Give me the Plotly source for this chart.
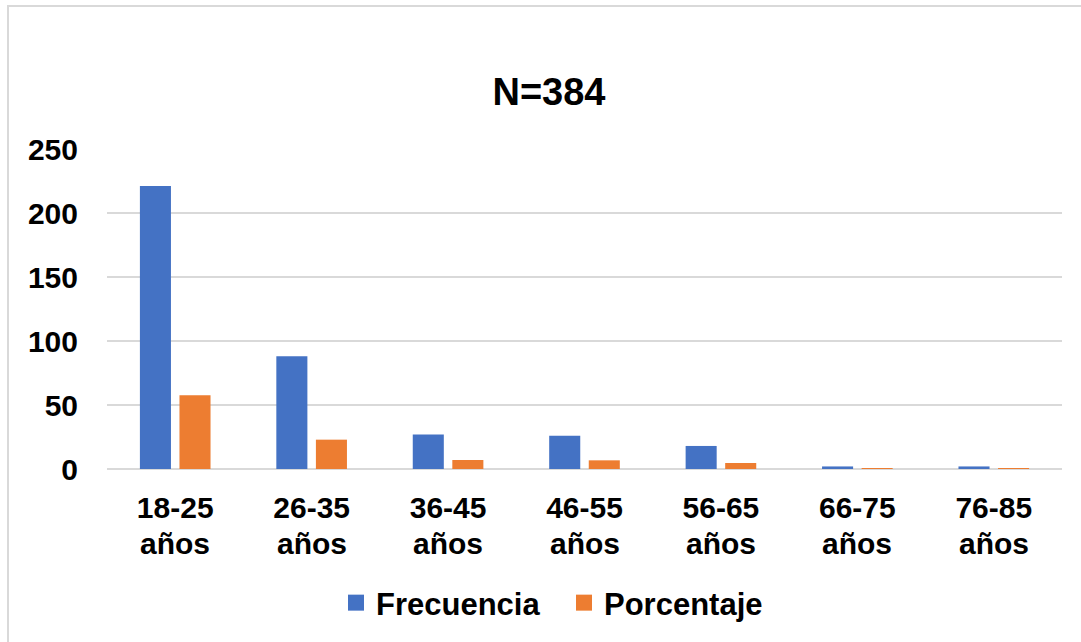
import plotly.graph_objects as go

# Age groups and survey counts (N = 384)
categories = ["18-25 años", "26-35 años", "36-45 años", "46-55 años",
              "56-65 años", "66-75 años", "76-85 años"]
frecuencia = [221, 88, 27, 26, 18, 2, 2]
porcentaje = [57.55, 22.92, 7.03, 6.77, 4.69, 0.52, 0.52]

BLUE = "#4472C4"
ORANGE = "#ED7D31"
GRID = "#D9D9D9"
FONT = "Liberation Sans, Arial, sans-serif"

W, H = 1081, 642
L, R, T, B = 107, 19, 149, 173
pw, ph = W - L - R, H - T - B

fig = go.Figure()
fig.add_trace(go.Bar(x=categories, y=frecuencia, name="Frecuencia",
                     marker=dict(color=BLUE, line=dict(width=0)), showlegend=False))
fig.add_trace(go.Bar(x=categories, y=porcentaje, name="Porcentaje",
                     marker=dict(color=ORANGE, line=dict(width=0)), showlegend=False))

# legend entries with larger square swatches
for name, col in [("Frecuencia", BLUE), ("Porcentaje", ORANGE)]:
    fig.add_trace(go.Scatter(x=[None], y=[None], mode="markers", name=name,
                             marker=dict(symbol="square", size=16, color=col)))

# chart-area border (light gray frame)
fig.add_shape(type="rect", xref="paper", yref="paper",
              x0=(8 - L) / pw, x1=(W + 10 - L) / pw,
              y0=-(H + 10 - T - ph) / ph, y1=1 + (T - 6) / ph,
              line=dict(color=GRID, width=2), fillcolor="rgba(0,0,0,0)", layer="below")

# second line of each category label, set tighter than a <br> break
for c in categories:
    fig.add_annotation(x=c, xref="x", y=-(543 - T - ph) / ph, yref="paper",
                       text=c.split(" ")[1], showarrow=False, xanchor="center",
                       yanchor="middle",
                       font=dict(size=30, family=FONT, color="black", weight="bold"))

fig.update_layout(
    width=W, height=H,
    margin=dict(l=L, r=R, t=T, b=B),
    paper_bgcolor="white", plot_bgcolor="white",
    font=dict(family=FONT, size=30, color="black", weight="bold"),
    title=dict(text="N=384", x=549 / W, xanchor="center", xref="container",
               y=1 - 92 / H, yanchor="middle", yref="container",
               font=dict(size=38, family=FONT, color="black", weight="bold")),
    barmode="group", bargap=0.42, bargroupgap=0.215,
    legend=dict(orientation="h", x=(344 - 8 - L) / pw, xanchor="left",
                y=-(603 - T - ph) / ph, yanchor="middle",
                font=dict(size=31, family=FONT, weight="bold"),
                itemwidth=30, entrywidth=183, entrywidthmode="pixels",
                bgcolor="rgba(0,0,0,0)"),
    showlegend=True,
)
fig.update_xaxes(showgrid=False, showline=False, zeroline=False, ticks="",
                 tickvals=categories, ticktext=[c.split(" ")[0] for c in categories],
                 tickfont=dict(size=30, weight="bold"), ticklabelstandoff=18)
fig.update_yaxes(range=[0, 250], dtick=50, showgrid=True, gridcolor=GRID, gridwidth=1.5,
                 zeroline=True, zerolinecolor=GRID, zerolinewidth=2, showline=False,
                 ticks="", tickfont=dict(size=30, weight="bold"), ticklabelstandoff=28)

fig.write_html("out.html")
